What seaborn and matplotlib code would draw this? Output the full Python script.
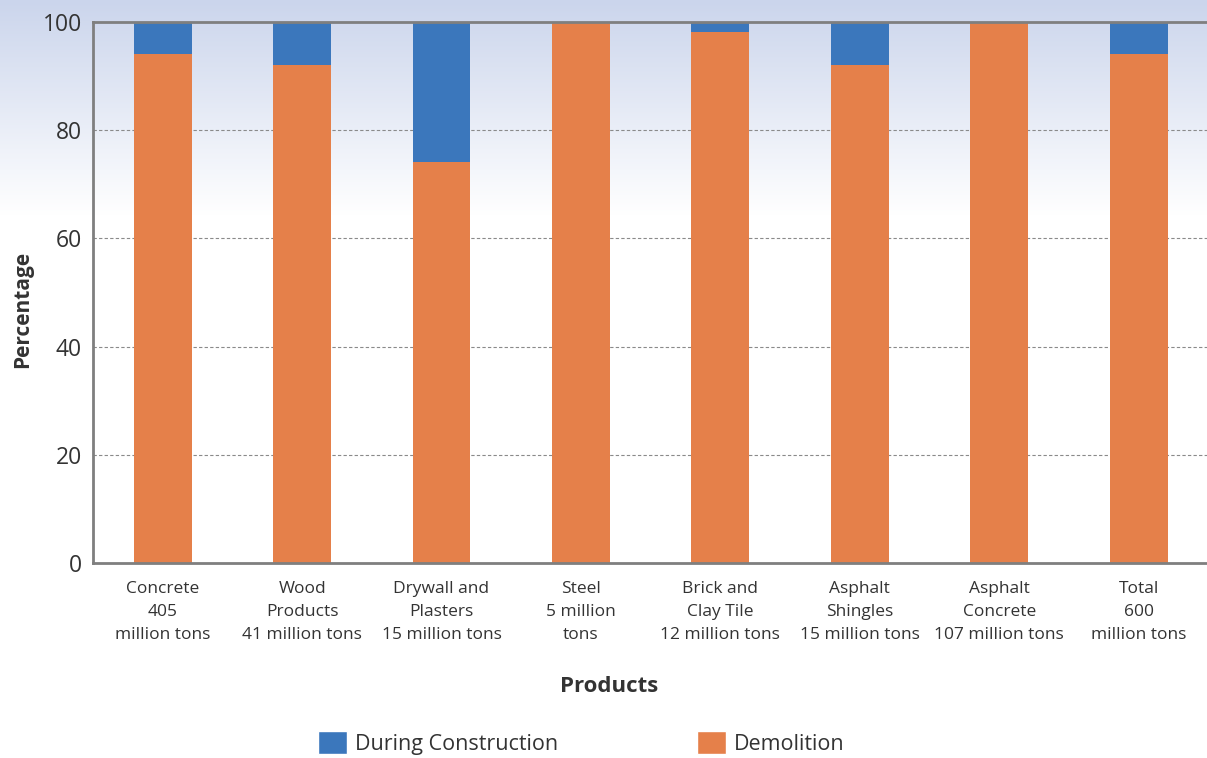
import numpy as np
import pandas as pd
import matplotlib
matplotlib.use("Agg")
import matplotlib.pyplot as plt
import seaborn as sns
from matplotlib.patches import Patch

categories = ["Concrete\n405\nmillion tons", "Wood\nProducts\n41 million tons",
              "Drywall and\nPlasters\n15 million tons", "Steel\n5 million\ntons",
              "Brick and\nClay Tile\n12 million tons", "Asphalt\nShingles\n15 million tons",
              "Asphalt\nConcrete\n107 million tons", "Total\n600\nmillion tons"]
demolition = [94.1, 92.0, 74.1, 100.0, 98.2, 92.0, 100.0, 94.1]
during_construction = [5.9, 8.0, 25.9, 0.0, 1.8, 8.0, 0.0, 5.9]
yticks = [0, 20, 40, 60, 80, 100]

BLUE = "#3B77BC"
ORANGE = "#E5804A"
TXT = "#333333"
FONT = ["Open Sans", "DejaVu Sans"]

sns.set_theme(style="white")
plt.rcParams["font.family"] = FONT

df = pd.DataFrame({"cat": categories, "demo": demolition, "cons": during_construction})
df["top"] = df["demo"] + df["cons"]

fig = plt.figure(figsize=(12.07, 7.58), dpi=100)
fig.patch.set_facecolor("white")

# background gradient
bg = fig.add_axes([0, 0, 1, 1], zorder=-10)
h = 758
grad = np.ones((h, 1, 3))
top = np.array([0xCB, 0xD5, 0xEC]) / 255.0
for i in range(h):
    t = min(i / 215.0, 1.0)
    grad[i, 0, :] = top * (1 - t) + np.array([1, 1, 1]) * t
bg.imshow(grad, aspect="auto", extent=[0, 1, 0, 1], origin="upper")
bg.axis("off")

ax = fig.add_axes([93 / 1207, 1 - 563 / 758, 1 - 93 / 1207, (563 - 22) / 758])
ax.patch.set_alpha(0)

sns.barplot(data=df, x="cat", y="top", color=BLUE, width=0.415, saturation=1,
            ax=ax, edgecolor="none", zorder=3)
sns.barplot(data=df, x="cat", y="demo", color=ORANGE, width=0.415, saturation=1,
            ax=ax, edgecolor="none", zorder=4)

ax.set_xlim(-0.5, 7.49)
ax.set_ylim(0, 100)
ax.set_yticks(yticks)
ax.set_yticklabels([str(v) for v in yticks], fontsize=16.5, color=TXT)
ax.tick_params(axis="y", length=0, pad=8)
ax.tick_params(axis="x", length=0, pad=13, labelsize=12.5, labelcolor=TXT)
for lbl in ax.get_xticklabels():
    lbl.set_linespacing(1.6)
ax.set_xlabel("")
ax.set_ylabel("")

fig.text(23 / 1207, 1 - 309 / 758, "Percentage", rotation=90, ha="center", va="center",
         fontsize=15, fontweight="bold", color=TXT)

for v in [20, 40, 60, 80]:
    ax.axhline(v, color="#8a8a8a", lw=0.8, ls=(0, (3, 2)), zorder=1)

for s in ["left", "bottom", "top"]:
    ax.spines[s].set_visible(True)
    ax.spines[s].set_color("#7f7f7f")
    ax.spines[s].set_linewidth(2)
    ax.spines[s].set_zorder(5)
ax.spines["right"].set_visible(False)

fig.text(609 / 1207, 1 - 687 / 758, "Products", ha="center", va="center",
         fontsize=16, fontweight="bold", color=TXT)

leg1 = fig.legend(handles=[Patch(facecolor=BLUE, label="During Construction")],
                  loc="center left", bbox_to_anchor=(318 / 1207, 1 - 743 / 758),
                  frameon=False, fontsize=15.5, handlelength=1.35, handleheight=1.3,
                  handletextpad=0.35, labelcolor=TXT, borderpad=0, borderaxespad=0)
leg2 = fig.legend(handles=[Patch(facecolor=ORANGE, label="Demolition")],
                  loc="center left", bbox_to_anchor=(697 / 1207, 1 - 743 / 758),
                  frameon=False, fontsize=15.5, handlelength=1.35, handleheight=1.3,
                  handletextpad=0.35, labelcolor=TXT, borderpad=0, borderaxespad=0)

fig.savefig("out.png", dpi=100)
